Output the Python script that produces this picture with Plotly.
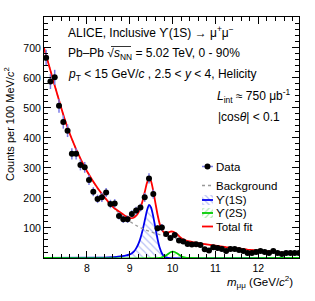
import plotly.graph_objects as go

# ---------------- data ----------------
mass = [7.05, 7.15, 7.25, 7.35, 7.45, 7.55, 7.65, 7.75, 7.85, 7.95,
        8.05, 8.15, 8.25, 8.35, 8.45, 8.55, 8.65, 8.75, 8.85, 8.95,
        9.05, 9.15, 9.25, 9.35, 9.45, 9.55, 9.65, 9.75, 9.85, 9.95,
        10.05, 10.15, 10.25, 10.35, 10.45, 10.55, 10.65, 10.75, 10.85, 10.95,
        11.05, 11.15, 11.25, 11.35, 11.45, 11.55, 11.65, 11.75, 11.85, 11.95,
        12.05, 12.15, 12.25, 12.35, 12.45, 12.55, 12.65, 12.75, 12.85, 12.95]
counts = [667, 588, 602, 507, 453, 424, 347, 347, 310, 302,
          260, 221, 197, 202, 218, 180, 182, 140, 129, 129,
          147, 158, 168, 202, 265, 213, 99, 102, 80, 67,
          77, 58, 55, 47, 45, 46, 43, 29, 25, 36,
          33, 30, 23, 30, 30, 27, 23, 17, 17, 20,
          23, 20, 17, 23, 17, 13, 17, 17, 17, 17]
errors = [27, 25, 25, 23, 22, 21, 19, 19, 18, 18,
          17, 15, 14, 15, 15, 14, 14, 12, 12, 12,
          12, 13, 13, 15, 17, 15, 11, 11, 9, 9,
          9, 8, 8, 7, 7, 7, 7, 6, 5, 6,
          6, 6, 5, 6, 6, 5, 5, 4, 4, 5,
          5, 5, 4, 5, 4, 4, 4, 4, 4, 4]

bkg_x = [7.0, 7.25, 7.5, 7.75, 8.0, 8.25, 8.5, 8.75, 9.0, 9.25, 9.5, 9.75,
         10.0, 10.25, 10.5, 10.75, 11.0, 11.25, 11.5, 11.75, 12.0, 12.25,
         12.5, 12.75, 12.95]
bkg_y = [700, 575, 455, 362, 290, 232, 185, 150, 122, 101, 87, 76,
         67, 59, 52, 46, 41, 36, 32, 28, 25, 22, 19, 17, 15]

y1s_x = [7.0, 8.3, 8.5, 8.7, 8.8, 8.9, 9.0, 9.05, 9.1, 9.15, 9.2, 9.25, 9.3,
         9.35, 9.4, 9.45, 9.5, 9.55, 9.6, 9.65, 9.7, 9.75, 9.8, 9.85, 9.9, 12.95]
y1s_y = [0, 1, 2, 4, 6, 8, 12, 16, 22, 32, 46, 66, 92,
         124, 157, 177, 168, 138, 100, 63, 34, 16, 6, 2, 0, 0]

y2s_x = [7.0, 9.7, 9.75, 9.8, 9.85, 9.9, 9.95, 10.0, 10.05, 10.1, 10.15,
         10.2, 10.25, 10.3, 10.35, 12.95]
y2s_y = [0, 0, 2, 5, 9, 14, 19, 21, 20, 16, 11, 6, 3, 1, 0, 0]

tot_x = [7.0, 7.25, 7.5, 7.75, 8.0, 8.25, 8.5, 8.55, 8.6, 8.65, 8.7, 8.75,
         8.8, 8.85, 8.9, 8.95, 9.0, 9.05, 9.1, 9.15, 9.2, 9.25, 9.3, 9.35,
         9.4, 9.45, 9.5, 9.55, 9.6, 9.65, 9.7, 9.75, 9.8, 9.85, 9.9, 9.95,
         10.0, 10.05, 10.1, 10.15, 10.2, 10.25, 10.3, 10.35, 10.4, 10.45,
         10.5, 10.75, 11.0, 11.25, 11.5, 11.75, 12.0, 12.25, 12.5, 12.75, 12.95]
tot_y = [700, 575, 455, 362, 290, 233, 187, 179, 172, 165, 160, 155,
         150, 145, 140, 137, 134, 133, 135, 141, 151, 167, 190, 219,
         249, 267, 255, 223, 183, 144, 113, 94, 85, 83, 85, 88,
         88, 85, 80, 73, 67, 62, 59, 56.5, 55, 53.5,
         52, 46, 41, 36, 32, 28, 25, 22, 19, 17, 15]

x_ticks = [8, 9, 10, 11, 12]
y_ticks = [100, 200, 300, 400, 500, 600, 700]

# ---------------- geometry (plot area in window pixels) ----------------
L, R, T, B = 44, 299, 17, 258
W, H = 315, 301
def PX(px):
    return (px - L) / (R - L)
def PY(py):
    return (B - py) / (B - T)

FONT = "Liberation Sans, Arial, Helvetica, sans-serif"
RED = "#ff0000"
BLUE = "#0000ee"
GREEN = "#00cc00"
GREY = "#999999"
ERRC = "#7a7ae6"
HATCH_B = "rgba(80,100,230,0.8)"
HATCH_G = "rgba(60,200,60,0.8)"

fig = go.Figure()

fig.add_trace(go.Scatter(x=y1s_x, y=y1s_y, mode="lines", line_shape="spline",
                         line=dict(color=BLUE, width=1.8, smoothing=0.5), fill="tozeroy",
                         fillcolor="rgba(255,255,255,0)",
                         fillpattern=dict(shape="\\", fgcolor=HATCH_B, fillmode="overlay",
                                          size=5, solidity=0.25),
                         showlegend=False))
fig.add_trace(go.Scatter(x=y2s_x, y=y2s_y, mode="lines", line_shape="spline",
                         line=dict(color=GREEN, width=1.8, smoothing=0.5), fill="tozeroy",
                         fillcolor="rgba(255,255,255,0)",
                         fillpattern=dict(shape="/", fgcolor=HATCH_G, fillmode="overlay",
                                          size=5, solidity=0.25),
                         showlegend=False))
fig.add_trace(go.Scatter(x=bkg_x, y=bkg_y, mode="lines", line_shape="spline",
                         line=dict(color=GREY, width=1.3, dash="dot"), showlegend=False))
fig.add_trace(go.Scatter(x=tot_x, y=tot_y, mode="lines", line_shape="spline",
                         line=dict(color=RED, width=1.8, smoothing=0.6), showlegend=False))
fig.add_trace(go.Scatter(x=mass, y=counts, mode="markers",
                         marker=dict(color="black", size=6),
                         error_y=dict(type="data", array=errors, color=ERRC,
                                      thickness=1.5, width=0),
                         showlegend=False))

# legend icons on an overlay axis in pixel units
fig.add_trace(go.Scatter(x=[202, 213, 213, 202, 202], y=[195, 195, 205, 205, 195],
                         xaxis="x2", yaxis="y2", mode="none", fill="toself",
                         fillcolor="rgba(255,255,255,0)",
                         fillpattern=dict(shape="\\", fgcolor=HATCH_B, fillmode="overlay",
                                          size=4, solidity=0.3),
                         showlegend=False, hoverinfo="skip"))
fig.add_trace(go.Scatter(x=[202, 213, 213, 202, 202], y=[208, 208, 218, 218, 208],
                         xaxis="x2", yaxis="y2", mode="none", fill="toself",
                         fillcolor="rgba(255,255,255,0)",
                         fillpattern=dict(shape="/", fgcolor=HATCH_G, fillmode="overlay",
                                          size=4, solidity=0.3),
                         showlegend=False, hoverinfo="skip"))
legend_lines = [(166.5, ERRC, "solid", 1.5), (185.5, GREY, "dot", 1.3),
                (200, BLUE, "solid", 1.8), (213, GREEN, "solid", 1.8),
                (226.5, RED, "solid", 1.8)]
for yy, c, d, w in legend_lines:
    fig.add_trace(go.Scatter(x=[202, 213], y=[yy, yy], xaxis="x2", yaxis="y2",
                             mode="lines", line=dict(color=c, dash=d, width=w),
                             showlegend=False, hoverinfo="skip"))
fig.add_trace(go.Scatter(x=[207.5], y=[166.5], xaxis="x2", yaxis="y2", mode="markers",
                         marker=dict(color="black", size=6), showlegend=False,
                         hoverinfo="skip"))

legend_texts = [(166.5, "Data"), (185.5, "Background"), (200, "ϒ(1S)"),
                (213, "ϒ(2S)"), (226.5, "Total fit")]
ann = []
for yy, t in legend_texts:
    ann.append(dict(x=PX(214), y=PY(yy), xref="paper", yref="paper", text=t,
                    showarrow=False, xanchor="left", yanchor="middle",
                    font=dict(size=11.5, color="black", family=FONT)))

top_texts = [
    (66, 32, "ALICE, Inclusive ϒ(1S) → μ<sup>+</sup>μ<sup>−</sup>"),
    (66, 54, "Pb–Pb √<i>s</i><sub>NN</sub> = 5.02 TeV, 0 - 90%"),
    (66, 75, "<i>p</i><sub>T</sub> < 15 GeV/<i>c</i> , 2.5 < <i>y</i> < 4, Helicity"),
    (215, 96, "<i>L</i><sub>int</sub> ≈ 750 μb<sup>-1</sup>"),
    (216, 117, "|cos<i>θ</i>| < 0.1"),
]
for xx, yy, t in top_texts:
    ann.append(dict(x=PX(xx), y=PY(yy), xref="paper", yref="paper", text=t,
                    showarrow=False, xanchor="left", yanchor="middle",
                    font=dict(size=12, color="black", family=FONT)))

ann.append(dict(x=PX(9), y=PY(124), xref="paper", yref="paper",
                text="Counts per 100 MeV/<i>c</i><sup>2</sup>", textangle=-90,
                showarrow=False, xanchor="center", yanchor="middle",
                font=dict(size=11, color="black", family=FONT)))
ann.append(dict(x=PX(295), y=PY(282), xref="paper", yref="paper",
                text="<i>m</i><sub>μμ</sub> (GeV/<i>c</i><sup>2</sup>)",
                showarrow=False, xanchor="right", yanchor="middle",
                font=dict(size=11.5, color="black", family=FONT)))

# overline of the square root
shapes = [dict(type="line", xref="paper", yref="paper", x0=PX(111), x1=PX(131),
               y0=PY(46.5), y1=PY(46.5), line=dict(color="black", width=0.8))]

fig.update_layout(
    width=W, height=H,
    margin=dict(l=L, r=W - R, t=T, b=H - B, pad=0),
    paper_bgcolor="white", plot_bgcolor="white",
    font=dict(family=FONT, size=10.5, color="black"),
    annotations=ann, shapes=shapes,
    xaxis=dict(range=[7.0, 12.95], tickvals=x_ticks, ticks="inside", ticklen=7,
               tickcolor="black", showline=True, linecolor="black", linewidth=1,
               mirror="ticks", showgrid=False, zeroline=False,
               tickfont=dict(size=10.5),
               minor=dict(dtick=0.2, tick0=7, ticks="inside", ticklen=4,
                          tickcolor="black", showgrid=False)),
    yaxis=dict(range=[0, 803], tickvals=y_ticks, ticks="inside", ticklen=7,
               tickcolor="black", showline=True, linecolor="black", linewidth=1,
               mirror="ticks", showgrid=False, zeroline=False,
               tickfont=dict(size=10.5),
               minor=dict(dtick=20, tick0=0, ticks="inside", ticklen=4,
                          tickcolor="black", showgrid=False)),
    xaxis2=dict(overlaying="x", range=[L, R], visible=False),
    yaxis2=dict(overlaying="y", range=[B, T], visible=False),
)

# remove the default page margin so the figure sits at the window's top-left corner
fig.write_html("out.html", config={"displayModeBar": False},
               post_script="document.body.style.margin='0px';")
